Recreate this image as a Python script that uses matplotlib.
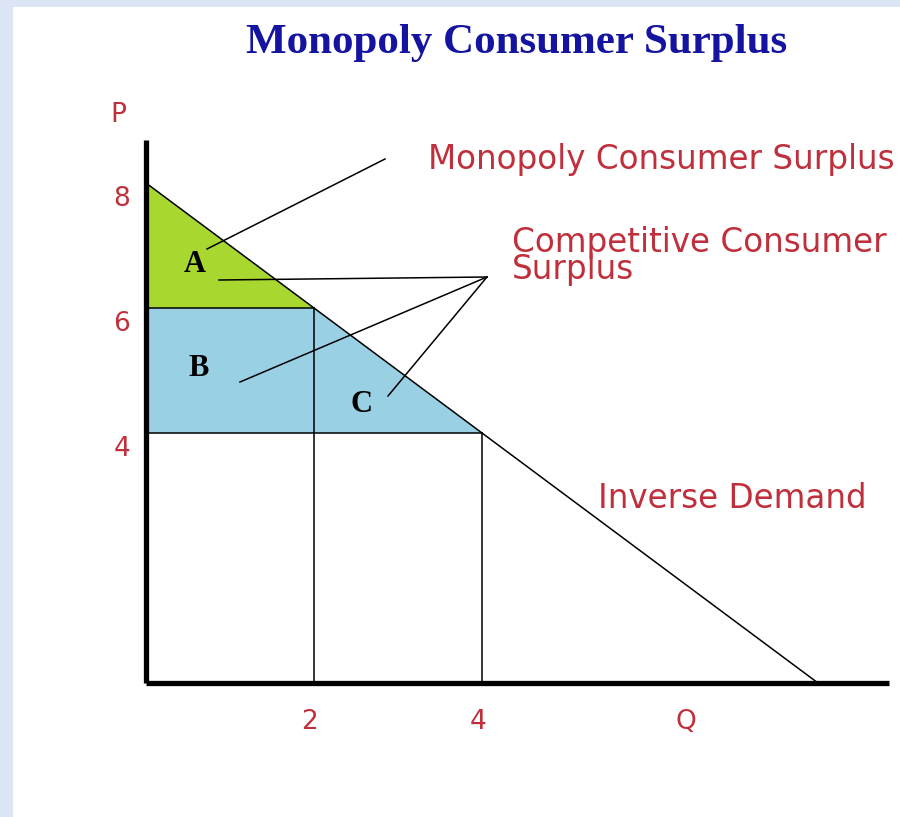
# -*- coding: utf-8 -*-

import matplotlib
matplotlib.use('Agg')
import matplotlib.pyplot as plt
from matplotlib.patches import Polygon, Rectangle

#-------------------------------------------------------
# Dados do gráfico (demanda inversa P = 8 - Q)
p_max = 8          # intercepto do preço
q_max = 8          # intercepto da quantidade
q_mono, p_mono = 2, 6   # monopólio
q_comp, p_comp = 4, 4   # concorrência
price_ticks = [8, 6, 4]
qty_ticks = [2, 4]
area_labels = ['A', 'B', 'C']
area_pos = [(0.58, 6.7), (0.63, 5.04), (2.56, 4.45)]

red = '#c0303c'
line_w = 1.1

#-------------------------------------------------------
W, H = 900, 817
fig = plt.figure(figsize=(W / 100, H / 100), dpi=100)
fig.patch.set_facecolor('#dce5f6')
fig.patches.append(Rectangle((13 / W, 0), 1, (H - 7) / H, transform=fig.transFigure,
                             facecolor='white', edgecolor='none', zorder=-10))

sx, sy = 84.0, 62.5   # pixels per unit
x0, y0 = 146, 683     # origin in pixels
ax = fig.add_axes([x0 / W, (H - y0) / H, 743 / W, 543 / H])
ax.set_xlim(0, 743 / sx)
ax.set_ylim(0, 543 / sy)
ax.patch.set_alpha(0)
for s in ['top', 'right']:
    ax.spines[s].set_visible(False)
for s in ['left', 'bottom']:
    ax.spines[s].set_linewidth(3.8)
    ax.spines[s].set_capstyle('butt')
ax.set_xticks([])
ax.set_yticks([])


def px(x, y):
    return ((x - x0) / sx, (y0 - y) / sy)


# areas
ax.add_patch(Polygon([(0, p_max), (0, p_mono), (q_mono, p_mono)], closed=True,
                     facecolor='#a8d830', edgecolor='none', zorder=1))
ax.add_patch(Polygon([(0, p_mono), (q_mono, p_mono), (q_comp, p_comp), (0, p_comp)], closed=True,
                     facecolor='#99d0e4', edgecolor='none', zorder=1))

# demand and guide lines
ax.plot([0, q_max], [p_max, 0], color='black', lw=line_w, zorder=3)
ax.plot([0, q_mono], [p_mono, p_mono], color='black', lw=line_w, zorder=3)
ax.plot([q_mono, q_mono], [0, p_mono], color='black', lw=line_w, zorder=3)
ax.plot([0, q_comp], [p_comp, p_comp], color='black', lw=line_w, zorder=3)
ax.plot([q_comp, q_comp], [0, p_comp], color='black', lw=line_w, zorder=3)

# leader lines
leaders = [[(207, 249), (385, 159)],
           [(219, 280), (487, 277)],
           [(240, 382), (487, 277)],
           [(388, 396), (487, 277)]]
for a, b in leaders:
    pa, pb = px(*a), px(*b)
    ax.plot([pa[0], pb[0]], [pa[1], pb[1]], color='black', lw=line_w, zorder=3, clip_on=False)

# area letters
for lab, (qx, py) in zip(area_labels, area_pos):
    ax.text(qx, py, lab, family='Liberation Serif', fontweight='bold', fontsize=22,
            ha='center', va='center', zorder=4)

# tick labels
for p in price_ticks:
    ax.text(-0.29, p - 0.25, str(p), color=red, fontsize=19, ha='center', va='center', clip_on=False)
for q in qty_ticks:
    ax.text(q - 0.05, -0.62, str(q), color=red, fontsize=19, ha='center', va='center', clip_on=False)
ax.text(*px(118, 115), 'P', color=red, fontsize=19, ha='center', va='center')
ax.text(*px(686, 722), 'Q', color=red, fontsize=19, ha='center', va='center')

# annotations
ax.text(*px(428, 160), 'Monopoly Consumer Surplus', color=red, fontsize=23.5, ha='left', va='center')
ax.text(*px(512, 226), 'Competitive Consumer\nSurplus', color=red, fontsize=23.5,
        ha='left', va='top', linespacing=0.78)
ax.text(*px(598, 498), 'Inverse Demand', color=red, fontsize=23.5, ha='left', va='center')

# title
fig.text(517 / W, 1 - 43 / H, 'Monopoly Consumer Surplus', family='Liberation Serif',
         fontweight='bold', fontsize=31, color='#1414a0', ha='center', va='center')

fig.savefig('out.png', dpi=100, facecolor=fig.get_facecolor())
